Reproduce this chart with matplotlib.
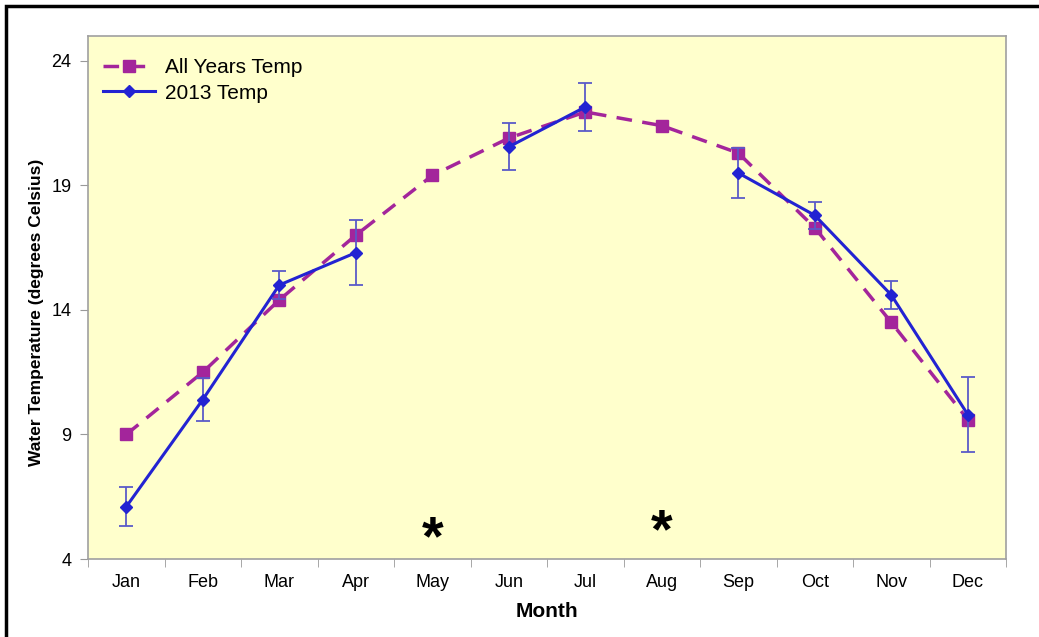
import numpy as np
import matplotlib
matplotlib.use("Agg")
import matplotlib.pyplot as plt
from matplotlib.patches import Rectangle

plt.rcParams['font.family'] = ['Liberation Sans', 'DejaVu Sans']

# data
months = ["Jan", "Feb", "Mar", "Apr", "May", "Jun", "Jul", "Aug", "Sep", "Oct", "Nov", "Dec"]
all_years = [9.0, 11.5, 14.4, 17.0, 19.4, 20.9, 21.95, 21.4, 20.3, 17.3, 13.5, 9.6]
temp_2013 = [6.1, 10.4, 15.0, 16.3, np.nan, 20.55, 22.15, np.nan, 19.5, 17.8, 14.6, 9.8]
err_2013 = [0.78, 0.85, 0.55, 1.3, np.nan, 0.95, 0.95, np.nan, 1.0, 0.55, 0.56, 1.5]
star_months = ["May", "Aug"]
star_y = [4.75, 5.05]

fig = plt.figure(figsize=(10.39, 6.37), dpi=100)
ax = fig.add_axes([0.0847, 0.1224, 0.8836, 0.8211])
ax.set_facecolor("#FFFFCC")

x = np.arange(len(months))
l1, = ax.plot(x, all_years, color="#A3259B", linewidth=2.5, linestyle=(0, (4.5, 3)),
              marker="s", markersize=8, label="All Years Temp")
eb = ax.errorbar(x, temp_2013, yerr=err_2013, color="#2323D2", linewidth=2.2,
                 marker="D", markersize=6, ecolor="#5A5AC8", elinewidth=1.3,
                 capsize=5, capthick=1.3, label="2013 Temp")

for m, yv in zip(star_months, star_y):
    ax.text(months.index(m), yv, "*", fontsize=40, fontweight="bold",
            ha="center", va="center")

ax.set_xlim(-0.5, 11.5)
ax.set_ylim(4, 25)
ax.set_yticks([4, 9, 14, 19, 24])
ax.set_xticks(x)
ax.set_xticklabels(months)
ax.set_xticks(np.arange(-0.5, 12, 1), minor=True)
ax.tick_params(axis="x", which="major", length=0, pad=11, labelsize=13)
ax.tick_params(axis="x", which="minor", length=6, color="#999999")
ax.tick_params(axis="y", length=6, color="#999999", labelsize=13, pad=6)

for s in ax.spines.values():
    s.set_color("#A0A0A0")
    s.set_linewidth(1.2)

ax.set_xlabel("Month", fontsize=15, fontweight="bold", labelpad=8)
ax.set_ylabel("Water Temperature (degrees Celsius)", fontsize=12.5,
              fontweight="bold")
ax.yaxis.set_label_coords(-0.048, 0.472)

leg = ax.legend([l1, eb[0]], ["All Years Temp", "2013 Temp"],
                loc="upper left", frameon=False, fontsize=15,
                bbox_to_anchor=(0.0, 0.985), handlelength=2.5,
                handletextpad=0.5, borderaxespad=0.3, labelspacing=0.3)

# figure frame (left and top edges visible)
fig.patches.append(Rectangle((6 / 1039, -0.1), 1.2, (631 / 637) + 0.1,
                             transform=fig.transFigure, fill=False,
                             edgecolor="black", linewidth=2.5))

fig.savefig("out.png", dpi=100)
